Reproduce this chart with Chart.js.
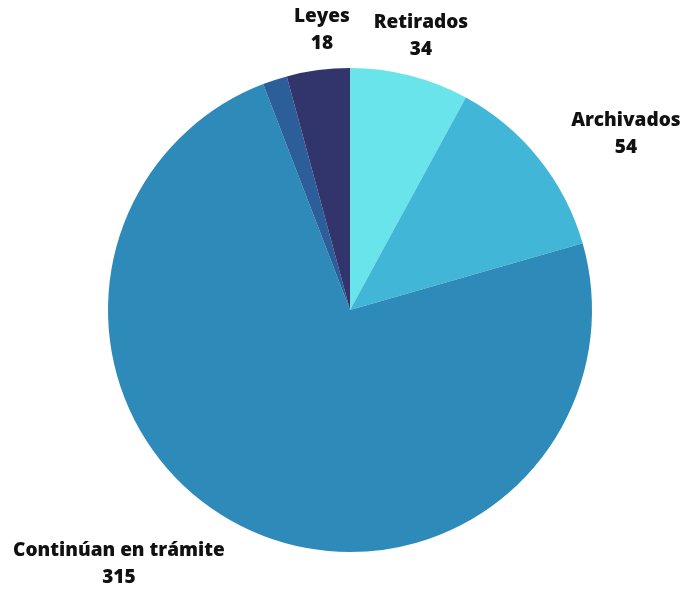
<!DOCTYPE html>
<html>
<head>
<meta charset="utf-8">
<script src="https://cdn.jsdelivr.net/npm/chart.js@4/dist/chart.umd.min.js"></script>
<style>
  html,body{margin:0;padding:0;background:#fff;}
  #wrap{width:683px;height:590px;position:relative;}
</style>
</head>
<body>
<div id="wrap"><canvas id="pie"></canvas></div>
<script>
/* ---- data ------------------------------------------------------------ */
const CATEGORIES = ["Retirados", "Archivados", "Continúan en trámite", "", "Leyes"];
const VALUES     = [34, 54, 315, 7, 18];
const COLORS     = ["#69e4ea", "#41b6d6", "#2e8bb9", "#2c5e9a", "#31356b"];
// label anchor, as a fraction of the pie radius from its centre
const LABEL_POS  = [[0.293,-1.132],[1.140,-0.725],[-0.955,1.048],null,[-0.116,-1.155]];

/* ---- outside labels -------------------------------------------------- */
const outLabels = {
  id: "outLabels",
  afterDraw(chart){
    const arc = chart.getDatasetMeta(0).data[0];
    if(!arc) return;
    const ctx = chart.ctx, r = arc.outerRadius;
    ctx.save();
    ctx.fillStyle = "#111";
    ctx.font = "800 19px 'Open Sans'";
    ctx.textAlign = "center";
    ctx.textBaseline = "middle";
    CATEGORIES.forEach((name,i)=>{
      const p = LABEL_POS[i];
      if(!p || !name) return;
      const x = arc.x + p[0]*r, y = arc.y + p[1]*r;
      ctx.fillText(name, x, y-13.5);
      ctx.fillText(String(VALUES[i]), x, y+13.5);
    });
    ctx.restore();
  }
};

new Chart(document.getElementById("pie"), {
  type: "pie",
  data: { labels: CATEGORIES,
    datasets: [{ data: VALUES, backgroundColor: COLORS, borderWidth: 0, hoverOffset: 0 }] },
  options: {
    responsive: true, maintainAspectRatio: false, animation: false,
    layout: { padding: { top: 68, bottom: 38, left: 17, right: 0 } },
    plugins: { legend: { display: false }, tooltip: { enabled: false } }
  },
  plugins: [outLabels]
});
</script>
</body>
</html>
